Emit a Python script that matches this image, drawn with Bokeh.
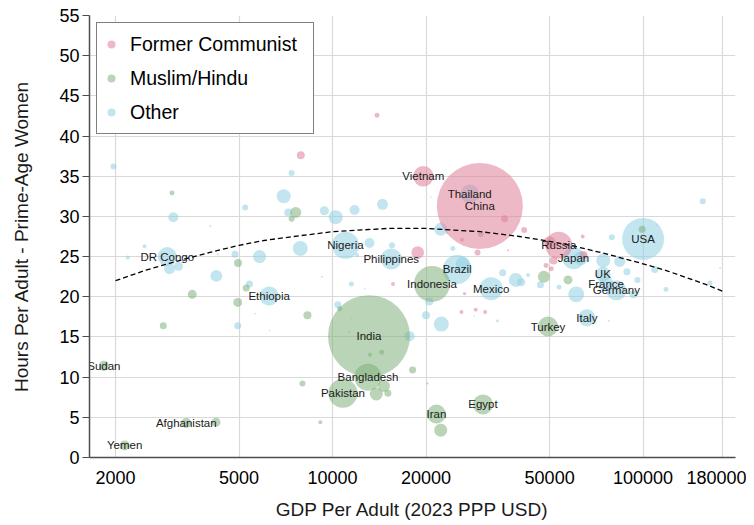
import numpy as np
from bokeh.plotting import figure
from bokeh.models import ColumnDataSource, FixedTicker, Legend, LegendItem, Range1d
from bokeh.core.properties import value
from bokeh.embed import file_html
from bokeh.resources import INLINE

FONT = "Liberation Sans"

# ---------------- data ----------------
# Former Communist
fc_name = ["China", "Vietnam", "Russia", "", "", "", "", "", "", "", "", "", "", "", "", "", "", "", "", "", "", ""]
fc_gdp = [29800, 19600, 53500, 13900, 7900, 35800, 41400, 26100, 36700, 18800, 29300, 50000, 63900, 64300,
          48700, 50600, 51500, 15650, 26000, 28900, 31000, 26600]
fc_hours = [31.3, 35.0, 26.4, 42.6, 37.6, 29.7, 28.3, 27.1, 25.8, 25.5, 25.5, 26.8, 27.5, 25.2,
            23.9, 23.5, 24.5, 21.6, 18.1, 18.4, 18.1, 20.4]
fc_pop = [1398, 80, 138, 4.7, 12, 9.3, 6.8, 3, 0.75, 30, 6.8, 27, 3, 12,
          4.7, 4.7, 12, 3, 3, 3, 3, 2]

# Muslim/Hindu
mh_name = ["India", "Indonesia", "Pakistan", "Bangladesh", "Turkey", "Egypt", "Iran", "Sudan", "Yemen",
           "Afghanistan"] + [""] * 30
mh_gdp = [13100, 20900, 10800, 13000, 49400, 30500, 21600, 1834, 2140, 3380,
          22300, 3040, 7610, 7380, 4960, 3533, 5270, 4950, 2850, 8300,
          10540, 8000, 9130, 4215, 13830, 14640, 15070, 13190, 14400, 18100,
          20200, 30000, 47900, 57300, 99300, 5637, 6270, 11300, 11530, 23400]
mh_hours = [15.1, 21.6, 8.0, 10.0, 16.3, 6.6, 5.4, 11.4, 1.5, 4.3,
            3.4, 32.9, 30.5, 29.7, 24.2, 20.3, 21.1, 19.3, 16.4, 17.7,
            18.5, 9.2, 4.4, 4.4, 7.9, 8.9, 8.0, 12.8, 13.1, 10.9,
            9.2, 27.8, 22.5, 22.1, 28.4, 17.9, 15.8, 15.6, 17.3, 27.9]
mh_pop = [1271, 245, 159, 138, 76, 76, 68, 19, 19, 19,
          32, 4.7, 23, 6.8, 12, 15.3, 9.3, 15.3, 9.3, 12,
          4.7, 6.8, 3, 15.3, 32, 27, 9.3, 3, 4.7, 9.3,
          0.75, 6.8, 27, 15.3, 9.3, 0.3, 0.3, 0.5, 0.3, 0.5]

# Other
ot_name = ["USA", "Brazil", "Mexico", "Nigeria", "Philippines", "DR Congo", "Ethiopia", "Japan", "Thailand",
           "UK", "France", "Germany", "Italy"] + [""] * 62
ot_gdp = [100000, 25200, 32400, 11000, 15450, 2936, 6250, 59700, 27640, 74200, 76000, 82000, 65900,
          1970, 7380, 6960, 5230, 3070, 7200, 9410, 10230, 11770, 14480,
          4040, 2480, 7870, 13150, 5820, 4850, 15540, 12000, 9250, 22300,
          20750, 24400, 155600, 79300, 2190, 2986, 3190, 4222, 5400, 4950,
          10400, 11500, 17700, 20500, 20000, 22400, 33950, 26250, 35300, 38900,
          40500, 42600, 46700, 53600, 60900, 63000, 74400, 84100, 88700, 95900,
          109000, 118500, 164300, 93000, 177000, 77600, 4270, 12700, 28600, 110700]
ot_hours = [27.2, 23.4, 21.0, 26.4, 24.7, 25.0, 20.1, 24.8, 32.8, 22.8, 21.6, 20.8, 17.4,
            36.2, 35.4, 32.5, 31.1, 29.9, 30.5, 30.7, 29.9, 30.8, 31.5,
            28.8, 26.3, 26.0, 26.7, 25.0, 25.3, 26.4, 25.2, 22.5, 28.4,
            32.4, 26.0, 31.9, 27.4, 24.9, 23.5, 23.8, 22.6, 21.6, 16.4,
            19.0, 21.6, 15.1, 19.4, 17.7, 16.6, 17.0, 24.1, 23.0, 22.1,
            21.8, 22.7, 21.5, 21.2, 20.3, 24.8, 24.5, 24.4, 23.1, 22.1,
            23.4, 20.9, 21.7, 20.3, 23.6, 17.0, 25.3, 21.0, 17.6, 28.9]
ot_pop = [333, 159, 100, 138, 83, 68, 68, 91, 68, 42.5, 42.5, 76, 55,
          6.8, 6.8, 37, 6.8, 19, 12, 15.3, 37, 19, 23,
          0.75, 3, 42.5, 19, 32, 9.3, 6.8, 3, 0.75, 32,
          0.5, 4.7, 6.8, 6.8, 3, 23, 15.3, 27, 9.3, 9.3,
          9.3, 4.7, 19, 12, 12, 42.5, 1.5, 37, 9.3, 37,
          12, 3, 9.3, 4.7, 48, 37, 37, 23, 9.3, 6.8,
          9.3, 4.7, 4.7, 12, 0.75, 0.75, 0.75, 0.5, 0.5, 0.5]

# quadratic trend
fit_gdp = [2000, 2500, 3000, 4000, 5000, 6000, 7500, 10000, 15000, 20000, 30000, 40000,
           50000, 60000, 75000, 100000, 120000, 140000, 160000, 180000]
fit_hours = [22.0, 23.3, 24.2, 25.5, 26.4, 27.0, 27.5, 28.1, 28.5, 28.5, 28.1, 27.5,
             26.9, 26.3, 25.4, 24.1, 23.2, 22.3, 21.5, 20.7]

x_ticks = [2000, 5000, 10000, 20000, 50000, 100000, 180000]
y_ticks = [0, 5, 10, 15, 20, 25, 30, 35, 40, 45, 50, 55]

groups = ["Former Communist", "Muslim/Hindu", "Other"]
colors = {"Former Communist": "#e07f98", "Muslim/Hindu": "#7fb07a", "Other": "#8fcfe3"}


def make_src(name, gdp, hours, pop):
    return ColumnDataSource(dict(name=name, gdp=gdp, hours=hours,
                                 size=list(2.3 * np.sqrt(np.array(pop, dtype=float)))))


srcs = {
    "Former Communist": make_src(fc_name, fc_gdp, fc_hours, fc_pop),
    "Muslim/Hindu": make_src(mh_name, mh_gdp, mh_hours, mh_pop),
    "Other": make_src(ot_name, ot_gdp, ot_hours, ot_pop),
}

p = figure(x_axis_type="log", x_range=Range1d(1649, 198400), y_range=Range1d(0, 55),
           frame_width=646, frame_height=442,
           min_border_left=89, min_border_right=11, min_border_top=15, min_border_bottom=56,
           output_backend="svg", toolbar_location=None)
p.outline_line_color = None
p.background_fill_color = "white"
p.border_fill_color = "white"

renderers = {}
for g in ["Other", "Muslim/Hindu", "Former Communist"]:
    renderers[g] = p.scatter("gdp", "hours", size="size", source=srcs[g], marker="circle",
                             fill_color=colors[g], fill_alpha=0.55, line_color=None)

p.line(fit_gdp, fit_hours, line_color="black", line_width=1.3, line_dash="5 3")

for g in ["Other", "Muslim/Hindu", "Former Communist"]:
    p.text("gdp", "hours", text="name", source=srcs[g], text_align="center", text_baseline="middle",
           text_font=value(FONT), text_font_size="11.5px", text_color="#1a1a1a")

# axes
p.xaxis.ticker = FixedTicker(ticks=x_ticks)
p.xaxis.major_label_overrides = {t: str(t) for t in x_ticks}
p.yaxis.ticker = FixedTicker(ticks=y_ticks)
p.xaxis.minor_tick_line_color = None
p.yaxis.minor_tick_line_color = None
p.xaxis.major_tick_line_color = None
p.yaxis.major_tick_out = 7
p.yaxis.major_tick_in = 0
p.yaxis.major_tick_line_color = "#4d4d4d"
p.yaxis.major_tick_line_width = 1.2
for ax in (p.xaxis, p.yaxis):
    ax.axis_line_color = "#4d4d4d"
    ax.axis_line_width = 1.5
    ax.major_label_text_font = FONT
    ax.major_label_text_font_size = "18px"
    ax.major_label_text_color = "black"
    ax.axis_label_text_font = FONT
    ax.axis_label_text_font_size = "19px"
    ax.axis_label_text_font_style = "normal"
    ax.axis_label_text_color = "#1a1a1a"
p.xaxis.axis_label = "GDP Per Adult (2023 PPP USD)"
p.yaxis.axis_label = "Hours Per Adult - Prime-Age Women"
p.xaxis.major_label_standoff = 7
p.yaxis.major_label_standoff = 3
p.xaxis.axis_label_standoff = 12
p.yaxis.axis_label_standoff = 24

p.xgrid.grid_line_color = "#d9d9d9"
p.ygrid.grid_line_color = "#d9d9d9"
p.xgrid.grid_line_width = 1.2
p.ygrid.grid_line_width = 1.2

legend = Legend(items=[LegendItem(label=g, renderers=[renderers[g]]) for g in groups],
                location="top_left")
legend.margin = 7
legend.padding = 4
legend.spacing = 0
legend.glyph_width = 20
legend.glyph_height = 34
legend.label_height = 34
legend.label_width = 179
legend.label_standoff = 9
legend.label_text_font = FONT
legend.label_text_font_size = "19.5px"
legend.label_text_color = "black"
legend.border_line_color = "black"
legend.border_line_width = 1.2
legend.background_fill_alpha = 1.0
p.add_layout(legend)

open("out.html", "w").write(file_html(p, INLINE))
